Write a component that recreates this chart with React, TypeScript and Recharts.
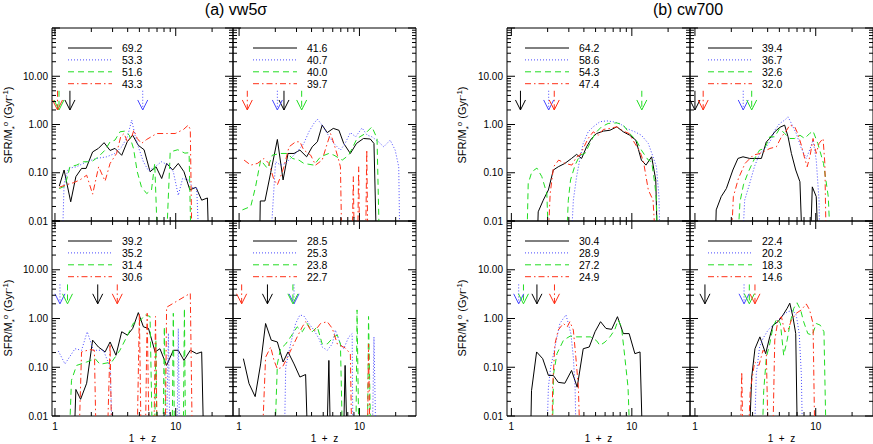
import React from 'react';
import { ComposedChart, Line, XAxis, YAxis, ReferenceArea } from 'recharts';

type Pt = [number, number];

const FONT = '"Liberation Sans", Arial, Helvetica, sans-serif';
const COLORS = ['#000000', '#4848ff', '#22dd22', '#ff3018'];
const DASHES: (string | undefined)[] = [undefined, '1 2', '6 4', '6 3 1.5 3'];

// ---------- (a) vw5sigma ----------
const a1Black: Pt[] = [[1.086,0.053],[1.19,0.114],[1.35,0.025],[1.49,0.083],[1.66,0.123],[1.81,0.123],[2.05,0.27],[2.29,0.32],[2.55,0.42],[2.86,0.29],[3.14,0.32],[3.57,0.23],[3.97,0.44],[4.4,0.6],[4.9,0.37],[5.47,0.3],[6.13,0.105],[6.87,0.133],[7.65,0.076],[8.42,0.156],[9.44,0.114],[10.5,0.156],[11.7,0.105],[13.1,0.044],[14.7,0.05],[16.4,0.027],[18.3,0.03],[19.0,0.001]];
const a1Blue: Pt[] = [[1.135,0.001],[1.19,0.06],[1.29,0.123],[1.51,0.133],[1.83,0.169],[2.21,0.198],[2.68,0.214],[3.14,0.251],[3.57,0.345],[3.98,0.556],[4.32,1.23],[4.6,0.6],[4.9,0.345],[5.4,0.169],[5.95,0.11],[6.75,0.133],[7.6,0.169],[8.7,0.144],[9.55,0.105],[10.5,0.034],[11.4,0.076],[12.7,0.071],[14.0,0.047],[14.9,0.05],[15.9,0.001]];
const a1Green: Pt[] = [[1.086,0.047],[1.21,0.053],[1.33,0.133],[1.51,0.144],[1.72,0.169],[2.01,0.169],[2.29,0.214],[2.6,0.295],[2.86,0.438],[3.14,0.474],[3.45,0.705],[3.8,0.73],[4.13,0.6],[4.47,0.319],[4.8,0.105],[5.2,0.051],[5.75,0.037],[6.3,0.044],[6.7,0.156],[7.2,0.001],[8.2,0.001],[9.0,0.27],[10.4,0.3],[11.9,0.255],[12.9,0.26],[13.5,0.001]];
const a1Red: Pt[] = [[1.086,0.05],[1.23,0.056],[1.42,0.062],[1.61,0.071],[1.83,0.089],[2.05,0.036],[2.3,0.133],[2.6,0.067],[2.86,0.156],[3.24,0.251],[3.5,0.556],[3.73,0.65],[3.98,0.438],[4.32,0.556],[4.5,0.76],[4.8,0.513],[5.2,0.405],[5.75,0.49],[6.95,0.65],[8.4,0.65],[9.9,0.65],[11.6,0.79],[12.7,0.97],[13.2,0.79],[13.7,0.001]];

const a2Black: Pt[] = [[1.47,0.001],[1.5,0.026],[1.64,0.026],[1.83,0.1],[2.08,0.49],[2.32,0.071],[2.55,0.251],[2.86,0.251],[3.2,0.295],[3.64,0.214],[4.05,0.345],[4.47,0.438],[4.9,0.97],[5.4,0.68],[6.06,0.83],[6.75,0.76],[7.4,0.405],[8.4,0.251],[9.45,0.405],[10.8,0.513],[12.3,0.5],[13.2,0.405],[14.0,0.001]];
const a2Blue: Pt[] = [[1.77,0.001],[2.01,0.169],[2.21,0.144],[2.44,0.156],[2.68,0.198],[3.04,0.272],[3.45,0.405],[3.8,0.705],[4.18,1.05],[4.47,1.29],[4.9,0.97],[5.4,0.65],[6.13,0.405],[6.95,0.295],[7.6,0.405],[8.4,0.68],[9.3,0.556],[10.5,0.85],[11.6,0.6],[12.7,0.556],[14.4,0.438],[15.9,0.345],[18.0,0.474],[19.8,0.295],[21.2,0.133],[21.8,0.001]];
const a2Green: Pt[] = [[1.066,0.017],[1.25,0.02],[1.37,0.051],[1.51,0.183],[1.72,0.123],[1.89,0.232],[2.21,0.251],[2.52,0.251],[2.77,0.198],[3.14,0.183],[3.45,0.156],[4.18,0.144],[4.75,0.214],[5.57,0.251],[6.13,0.232],[7.2,0.183],[8.15,0.232],[9.55,0.513],[11.2,0.65],[12.7,0.895],[14.0,0.513],[14.8,0.001]];
const a2Red: Pt[] = [[1.1,0.183],[1.25,0.144],[1.42,0.156],[1.61,0.198],[1.77,0.156],[1.95,0.071],[2.08,0.056],[2.21,0.083],[2.36,0.133],[2.6,0.345],[2.95,0.438],[3.2,0.438],[3.45,0.295],[3.93,0.232],[4.32,0.144],[4.9,0.183],[5.4,0.405],[5.75,0.65],[6.13,0.405],[6.55,0.232],[6.95,0.133],[7.2,0.001],[8.6,0.001],[8.9,0.083],[9.1,0.001],[9.6,0.001],[9.85,0.133],[10.1,0.001],[11.2,0.001],[11.5,0.3],[11.8,0.001]];

const a3Black: Pt[] = [[1.42,0.001],[1.49,0.035],[1.63,0.022],[1.83,0.047],[2.05,0.36],[2.29,0.26],[2.6,0.206],[2.86,0.33],[3.2,0.176],[3.57,0.535],[3.98,0.456],[4.4,0.625],[4.9,1.32],[5.4,0.675],[5.95,0.625],[6.75,0.206],[7.4,0.24],[8.4,0.109],[9.55,0.223],[10.5,0.223],[11.7,0.138],[13.2,0.223],[14.9,0.19],[16.4,0.206],[17.2,0.001]];
const a3Blue: Pt[] = [[1.066,0.216],[1.21,0.117],[1.465,0.24],[1.66,0.223],[1.85,0.535],[2.08,0.223],[2.52,0.223],[2.86,0.1],[3.04,0.001],[8.3,0.001],[8.7,0.5],[9.0,0.001],[10.2,0.001],[10.5,0.62],[10.8,0.001]];
const a3Green: Pt[] = [[1.29,0.001],[1.37,0.054],[1.51,0.109],[1.83,0.128],[2.15,0.15],[2.36,0.115],[2.95,0.128],[3.45,0.223],[3.93,0.42],[4.47,0.81],[4.9,0.81],[5.57,1.19],[6.13,1.1],[6.45,0.001],[6.65,0.001],[6.85,0.36],[7.05,0.001],[7.8,0.001],[8.05,0.675],[8.3,0.001],[9.3,0.001],[9.55,1.28],[9.8,0.001],[11.5,0.001],[11.8,1.6],[12.1,0.001]];
const a3Red: Pt[] = [[1.56,0.001],[1.66,0.206],[1.95,0.23],[2.12,0.223],[2.21,0.001],[2.68,0.001],[2.86,0.3],[2.97,0.001],[4.75,0.001],[5.0,1.28],[5.2,0.001],[5.57,0.001],[5.8,1.28],[6.06,0.001],[6.55,0.001],[6.8,1.1],[7.05,0.001],[8.15,0.001],[8.4,1.7],[13.2,3.3],[13.8,0.001]];

const a4Black: Pt[] = [[1.086,0.15],[1.21,0.046],[1.36,0.025],[1.51,0.117],[1.66,0.79],[1.85,0.36],[2.08,0.33],[2.32,0.128],[2.55,0.206],[2.86,0.117],[3.2,0.063],[3.57,0.071],[3.76,0.001],[5.3,0.001],[5.57,0.138],[5.8,0.001],[7.3,0.001],[7.6,0.109],[8.0,0.001]];
const a4Blue: Pt[] = [[2.36,0.001],[2.44,0.1],[2.68,0.3],[2.95,0.79],[3.2,1.18],[3.45,1.13],[3.8,0.79],[4.18,0.58],[4.6,0.39],[4.9,0.26],[5.4,0.223],[5.95,0.3],[6.3,0.58],[6.95,0.3],[7.4,0.24],[8.15,0.42],[8.7,0.49],[8.85,0.001],[12.7,0.001],[13.2,0.42],[13.8,0.001]];
const a4Green: Pt[] = [[1.95,0.001],[2.08,0.117],[2.21,0.24],[2.44,0.3],[2.68,0.42],[3.04,0.675],[3.35,0.535],[3.68,0.79],[4.05,0.535],[4.47,0.675],[4.9,0.3],[5.4,0.3],[6.13,0.42],[6.55,0.456],[6.95,0.3],[7.3,0.001],[9.3,0.001],[9.55,1.5],[9.95,0.001],[11.6,0.001],[11.9,1.1],[12.5,0.001]];
const a4Red: Pt[] = [[1.53,0.001],[1.66,0.16],[1.83,0.26],[1.95,0.138],[2.08,0.092],[2.29,0.1],[2.52,0.16],[2.77,0.26],[3.04,0.42],[3.35,0.675],[3.57,0.86],[3.93,0.58],[4.32,0.58],[4.75,0.79],[5.4,0.86],[5.95,0.625],[6.55,0.3],[7.6,0.25],[8.4,0.19],[8.7,0.001],[11.6,0.001],[11.9,0.3],[12.3,0.001]];

// ---------- (b) cw700 ----------
const b1Black: Pt[] = [[1.62,0.001],[1.67,0.0155],[1.84,0.027],[2.03,0.044],[2.23,0.114],[2.45,0.133],[2.78,0.156],[3.16,0.198],[3.48,0.24],[3.83,0.198],[4.21,0.345],[4.63,0.513],[5.1,0.65],[5.8,0.73],[6.58,0.76],[7.5,0.895],[8.5,0.705],[9.6,0.6],[10.8,0.474],[12.0,0.183],[13.1,0.144],[14.6,0.214],[15.8,0.071],[16.5,0.001]];
const b1Blue: Pt[] = [[3.06,0.001],[3.27,0.027],[3.48,0.083],[3.71,0.198],[3.95,0.405],[4.34,0.705],[4.78,0.895],[5.43,1.14],[6.17,1.19],[7.0,1.14],[7.94,1.05],[9.0,0.83],[10.6,0.705],[12.0,0.6],[13.7,0.405],[15.0,0.214],[16.0,0.133],[16.8,0.032],[17.3,0.001]];
const b1Green: Pt[] = [[1.33,0.001],[1.38,0.06],[1.48,0.105],[1.63,0.125],[1.79,0.083],[1.97,0.037],[2.07,0.001],[2.8,0.001],[2.97,0.027],[3.1,0.071],[3.38,0.144],[3.71,0.232],[4.08,0.251],[4.49,0.405],[4.95,0.65],[5.6,0.895],[6.36,1.05],[7.5,1.08],[8.5,0.97],[9.6,0.65],[10.9,0.474],[12.0,0.295],[12.8,0.232],[13.7,0.183],[14.6,0.169],[15.5,0.06],[16.0,0.027],[16.5,0.001]];
const b1Red: Pt[] = [[1.97,0.001],[2.1,0.037],[2.24,0.133],[2.47,0.183],[2.8,0.156],[3.18,0.144],[3.48,0.214],[3.71,0.232],[3.95,0.319],[4.34,0.513],[4.78,0.705],[5.27,0.6],[5.8,0.79],[6.58,0.83],[7.5,0.895],[8.5,0.73],[9.5,0.65],[10.6,0.405],[11.7,0.272],[12.5,0.169],[13.7,0.044],[15.0,0.027],[16.2,0.001]];

const b2Black: Pt[] = [[1.455,0.001],[1.5,0.017],[1.65,0.032],[1.82,0.047],[2.06,0.114],[2.27,0.198],[2.5,0.214],[2.84,0.198],[3.55,0.198],[3.9,0.438],[4.16,0.513],[4.58,0.705],[5.03,0.87],[5.53,0.97],[5.9,0.556],[6.29,0.251],[6.83,0.114],[7.4,0.065],[7.85,0.001],[8.9,0.001],[9.37,0.051],[10.1,0.032],[10.65,0.001]];
const b2Blue: Pt[] = [[2.42,0.001],[2.58,0.027],[2.84,0.06],[3.12,0.138],[3.43,0.245],[3.9,0.345],[4.28,0.49],[4.58,0.76],[5.03,1.05],[5.53,1.23],[5.9,1.44],[6.29,1.05],[6.9,0.65],[7.6,0.319],[8.35,0.198],[8.9,0.295],[9.5,0.474],[10.1,0.183],[10.65,0.027],[10.9,0.001]];
const b2Green: Pt[] = [[2.2,0.001],[2.36,0.025],[2.52,0.056],[2.77,0.105],[3.12,0.198],[3.43,0.295],[3.78,0.319],[4.16,0.556],[4.58,0.556],[5.03,0.83],[5.53,0.65],[6.1,0.513],[6.7,0.513],[7.4,0.6],[8.1,0.513],[8.9,0.65],[9.5,0.73],[10.4,0.405],[11.6,0.156],[12.7,0.032],[13.5,0.001]];
const b2Red: Pt[] = [[1.95,0.001],[2.08,0.032],[2.29,0.076],[2.6,0.156],[3.04,0.232],[3.45,0.251],[4.18,0.319],[4.72,0.345],[5.2,0.556],[5.64,0.705],[6.1,0.97],[6.7,0.895],[7.1,0.65],[7.6,0.374],[8.1,0.198],[8.5,0.133],[9.0,0.232],[9.5,0.513],[10.1,0.251],[10.65,0.405],[11.5,0.513],[11.9,0.156],[12.3,0.001]];

const b3Black: Pt[] = [[1.43,0.001],[1.47,0.033],[1.62,0.206],[1.82,0.15],[2.03,0.068],[2.23,0.068],[2.45,0.049],[2.78,0.047],[3.16,0.086],[3.52,0.039],[3.95,0.24],[4.43,0.26],[4.95,0.535],[5.5,0.86],[6.1,0.625],[6.8,0.6],[7.6,1.09],[8.5,0.49],[9.5,0.49],[10.6,0.19],[11.7,0.206],[12.4,0.001]];
const b3Blue: Pt[] = [[1.94,0.001],[2.03,0.039],[2.12,0.1],[2.26,0.206],[2.38,0.39],[2.53,0.79],[2.7,1.0],[2.84,1.18],[2.97,0.79],[3.12,0.49],[3.27,0.16],[3.38,0.039],[3.48,0.001]];
const b3Green: Pt[] = [[2.17,0.001],[2.24,0.072],[2.39,0.19],[2.71,0.36],[3.08,0.435],[3.48,0.42],[3.95,0.42],[4.54,0.42],[5.1,0.35],[5.43,0.28],[6.0,0.33],[6.58,0.42],[7.2,0.58],[7.7,0.93],[8.2,0.675],[8.75,0.16],[9.3,0.039],[9.8,0.001]];
const b3Red: Pt[] = [[2.16,0.001],[2.2,0.039],[2.3,0.3],[2.45,0.58],[2.7,0.79],[2.91,0.675],[3.06,0.86],[3.27,0.58],[3.43,0.16],[3.6,0.039],[3.76,0.001]];

const b4Black: Pt[] = [[2.77,0.001],[2.95,0.063],[3.14,0.24],[3.45,0.42],[3.85,0.19],[4.16,0.42],[4.43,0.73],[4.87,0.86],[5.36,1.18],[5.8,1.62],[6.1,2.06],[6.47,1.09],[6.83,0.49],[7.1,0.001]];
const b4Blue: Pt[] = [[3.06,0.001],[3.22,0.072],[3.43,0.26],[3.66,0.39],[4.03,0.58],[4.43,0.73],[4.87,0.93],[5.36,1.18],[5.9,1.39],[6.47,1.45],[6.9,1.18],[7.3,0.49],[7.6,0.072],[7.85,0.001]];
const b4Green: Pt[] = [[3.55,0.001],[3.71,0.033],[3.9,0.16],[4.16,0.3],[4.43,0.675],[4.78,1.0],[5.1,0.79],[5.43,0.176],[5.8,0.36],[6.17,0.86],[6.58,1.62],[7.0,2.1],[7.5,1.5],[7.94,0.86],[8.6,0.49],[9.37,0.456],[10.1,0.79],[10.9,0.73],[11.7,0.535],[12.3,0.001]];
const b4Red: Pt[] = [[2.36,0.001],[2.44,0.08],[2.52,0.001],[2.71,0.001],[2.87,0.033],[3.12,0.128],[3.39,0.109],[3.66,0.223],[3.9,0.19],[4.08,0.001],[4.37,0.001],[4.58,0.36],[4.87,0.93],[5.2,1.09],[5.53,0.535],[5.9,0.58],[6.29,0.93],[6.9,1.28],[7.6,1.5],[8.35,1.99],[8.9,1.5],[9.5,0.79],[9.9,0.001]];

// arrow positions (1+z), order: black, blue, green, red
const a1Arrows = [1.33, 5.33, 1.08, 1.05];
const a2Arrows = [2.36, 2.08, 3.31, 1.17];
const a3Arrows = [2.26, 1.1, 1.27, 3.28];
const a4Arrows = [1.72, 2.86, 2.8, 1.05];
const b1Arrows = [1.19, 2.04, 12.1, 2.27];
const b2Arrows = [1.0, 2.51, 2.95, 1.17];
const b3Arrows = [1.63, 1.15, 1.26, 2.28];
const b4Arrows = [1.21, 2.55, 2.82, 3.14];
const ARROW_TOP = 5;
const ARROW_TIP = 2;

// legend labels
const a1Legend = ['69.2', '53.3', '51.6', '43.3'];
const a2Legend = ['41.6', '40.7', '40.0', '39.7'];
const a3Legend = ['39.2', '35.2', '31.4', '30.6'];
const a4Legend = ['28.5', '25.3', '23.8', '22.7'];
const b1Legend = ['64.2', '58.6', '54.3', '47.4'];
const b2Legend = ['39.4', '36.7', '32.6', '32.0'];
const b3Legend = ['30.4', '28.9', '27.2', '24.9'];
const b4Legend = ['22.4', '20.2', '18.3', '14.6'];

const X_TICKS = [1, 2, 3, 4, 5, 6, 7, 8, 9, 10, 20];
const X_MAJOR = [1, 10];
const Y_TICKS = [0.01,0.02,0.03,0.04,0.05,0.06,0.07,0.08,0.09,0.1,0.2,0.3,0.4,0.5,0.6,0.7,0.8,0.9,1,2,3,4,5,6,7,8,9,10,20,30,40,50,60,70,80,90,100];
const Y_MAJOR = [0.01, 0.1, 1, 10, 100];
const Y_LABELS: Record<string, string> = { '0.01': '0.01', '0.1': '0.10', '1': '1.00', '10': '10.00' };
const Y_DOMAIN: [number, number] = [0.01, 100];

const TITLES = ['(a) vw5σ', '(b) cw700'];
const X_TITLE = '1 + z';

const YW = 50;
const XH = 30;
const MT = 2;
const MR = 2;

const PANELS = [
  { id: 'a1', left: 52, top: 28, w: 181, h: 193, xd: [0.945, 29.8], series: [a1Black, a1Blue, a1Green, a1Red], arrows: a1Arrows, legend: a1Legend, lx: 68, xLab: false, yLab: true },
  { id: 'a2', left: 233, top: 28, w: 183, h: 193, xd: [0.89, 29.5], series: [a2Black, a2Blue, a2Green, a2Red], arrows: a2Arrows, legend: a2Legend, lx: 253, xLab: false, yLab: false },
  { id: 'a3', left: 52, top: 221, w: 181, h: 195, xd: [0.945, 29.8], series: [a3Black, a3Blue, a3Green, a3Red], arrows: a3Arrows, legend: a3Legend, lx: 68, xLab: true, yLab: true },
  { id: 'a4', left: 233, top: 221, w: 183, h: 195, xd: [0.89, 29.5], series: [a4Black, a4Blue, a4Green, a4Red], arrows: a4Arrows, legend: a4Legend, lx: 253, xLab: true, yLab: false },
  { id: 'b1', left: 507, top: 28, w: 183, h: 193, xd: [0.92, 30.4], series: [b1Black, b1Blue, b1Green, b1Red], arrows: b1Arrows, legend: b1Legend, lx: 525, xLab: false, yLab: true },
  { id: 'b2', left: 690, top: 28, w: 183, h: 193, xd: [0.91, 29.8], series: [b2Black, b2Blue, b2Green, b2Red], arrows: b2Arrows, legend: b2Legend, lx: 708, xLab: false, yLab: false },
  { id: 'b3', left: 507, top: 221, w: 183, h: 195, xd: [0.92, 30.4], series: [b3Black, b3Blue, b3Green, b3Red], arrows: b3Arrows, legend: b3Legend, lx: 525, xLab: true, yLab: true },
  { id: 'b4', left: 690, top: 221, w: 183, h: 195, xd: [0.91, 29.8], series: [b4Black, b4Blue, b4Green, b4Red], arrows: b4Arrows, legend: b4Legend, lx: 708, xLab: true, yLab: false },
];

const toRows = (arr: Pt[]) => arr.map(([x, y]) => ({ x, y }));

const makeXTick = (plotH: number, showLabel: boolean) => (props: any) => {
  const { x, y, payload } = props;
  const v = payload.value;
  const major = X_MAJOR.includes(v);
  const len = major ? 8 : 4;
  return (
    <g>
      <line x1={x} x2={x} y1={y} y2={y - len} stroke="#000" strokeWidth={1} />
      <line x1={x} x2={x} y1={y - plotH} y2={y - plotH + len} stroke="#000" strokeWidth={1} />
      {showLabel && major ? (
        <text x={x} y={y + 14} textAnchor="middle" fontSize={10} fontFamily={FONT} fill="#000">{String(v)}</text>
      ) : null}
    </g>
  );
};

const makeYTick = (plotW: number, showLabel: boolean) => (props: any) => {
  const { x, y, payload } = props;
  const v = payload.value;
  const major = Y_MAJOR.includes(v);
  const len = major ? 8 : 4;
  const lab = Y_LABELS[String(v)];
  return (
    <g>
      <line x1={x} x2={x + len} y1={y} y2={y} stroke="#000" strokeWidth={1} />
      <line x1={x + plotW} x2={x + plotW - len} y1={y} y2={y} stroke="#000" strokeWidth={1} />
      {showLabel && lab ? (
        <text x={x - 4} y={y} dy="0.35em" textAnchor="end" fontSize={10} fontFamily={FONT} fill="#000">{lab}</text>
      ) : null}
    </g>
  );
};

const makeHead = (color: string) => (props: any) => {
  const { cx, cy, index } = props;
  if (index !== 1 || cx == null || cy == null) return <g key={`e${index}`} />;
  return (
    <path key={`h${index}`} d={`M${cx - 5},${cy - 10}L${cx},${cy}L${cx + 5},${cy - 10}`} fill="none" stroke={color} strokeWidth={1} />
  );
};

function Panel({ p }: { p: (typeof PANELS)[number] }) {
  const width = YW + p.w + MR;
  const height = MT + p.h + XH;
  return (
    <div style={{ position: 'absolute', left: p.left - YW, top: p.top - MT, width, height }}>
      <ComposedChart width={width} height={height} margin={{ top: MT, right: MR, bottom: 0, left: 0 }}>
        <XAxis
          type="number"
          dataKey="x"
          scale="log"
          domain={p.xd as [number, number]}
          allowDataOverflow
          ticks={X_TICKS}
          interval={0}
          tickSize={0}
          tickMargin={0}
          axisLine={false}
          tickLine={false}
          height={XH}
          tick={makeXTick(p.h, p.xLab)}
        />
        <YAxis
          type="number"
          scale="log"
          domain={Y_DOMAIN}
          allowDataOverflow
          ticks={Y_TICKS}
          interval={0}
          tickSize={0}
          tickMargin={0}
          axisLine={false}
          tickLine={false}
          width={YW}
          tick={makeYTick(p.w, p.yLab)}
        />
        <ReferenceArea x1={p.xd[0]} x2={p.xd[1]} y1={Y_DOMAIN[0]} y2={Y_DOMAIN[1]} fill="none" fillOpacity={0} stroke="#000" strokeWidth={1} ifOverflow="visible" />
        {p.series.map((s, i) => (
          <Line
            key={`s${i}`}
            data={toRows(s)}
            dataKey="y"
            type="linear"
            stroke={COLORS[i]}
            strokeDasharray={DASHES[i]}
            strokeWidth={1}
            dot={false}
            activeDot={false}
            isAnimationActive={false}
          />
        ))}
        {p.arrows.map((ax, i) => (
          <Line
            key={`a${i}`}
            data={[{ x: ax, y: ARROW_TOP }, { x: ax, y: ARROW_TIP }]}
            dataKey="y"
            type="linear"
            stroke={COLORS[i]}
            strokeDasharray={DASHES[i]}
            strokeWidth={1}
            dot={makeHead(COLORS[i])}
            activeDot={false}
            isAnimationActive={false}
          />
        ))}
      </ComposedChart>
    </div>
  );
}

function YTitle({ x, y }: { x: number; y: number }) {
  return (
    <text x={x} y={y} transform={`rotate(-90 ${x} ${y})`} textAnchor="middle" fontSize={11} fontFamily={FONT} fill="#000">
      <tspan>SFR/M</tspan>
      <tspan baselineShift="sub" fontSize={8}>*</tspan>
      <tspan baselineShift="super" fontSize={8}>o</tspan>
      <tspan> (Gyr</tspan>
      <tspan baselineShift="super" fontSize={8}>-1</tspan>
      <tspan>)</tspan>
    </text>
  );
}

export default function App() {
  return (
    <div style={{ position: 'absolute', left: 0, top: 0, width: 873, height: 444, background: '#fff', overflow: 'hidden', fontFamily: FONT }}>
      {PANELS.map((p) => (
        <Panel key={p.id} p={p} />
      ))}
      <svg width={873} height={444} style={{ position: 'absolute', left: 0, top: 0, pointerEvents: 'none' }}>
        <text x={236} y={15} textAnchor="middle" fontSize={16} fontFamily={FONT} fill="#000">{TITLES[0]}</text>
        <text x={688} y={15} textAnchor="middle" fontSize={16} fontFamily={FONT} fill="#000">{TITLES[1]}</text>
        <YTitle x={12} y={125} />
        <YTitle x={12} y={318} />
        <YTitle x={466} y={125} />
        <YTitle x={466} y={318} />
        {PANELS.filter((p) => p.xLab).map((p) => (
          <text key={`xt${p.id}`} x={p.left + p.w / 2} y={442} textAnchor="middle" fontSize={10} fontFamily={FONT} fill="#000" style={{ whiteSpace: 'pre' }}>
            {X_TITLE.replace(/ /g, '  ')}
          </text>
        ))}
        {PANELS.map((p) =>
          p.legend.map((lab, i) => {
            const ry = p.top + 20 + i * 11.9;
            return (
              <g key={`lg${p.id}${i}`}>
                <line x1={p.lx} x2={p.lx + 44} y1={ry} y2={ry} stroke={COLORS[i]} strokeDasharray={DASHES[i]} strokeWidth={1} />
                <text x={p.lx + 54} y={ry + 4} fontSize={10.5} fontFamily={FONT} fill="#000">{lab}</text>
              </g>
            );
          })
        )}
      </svg>
    </div>
  );
}
